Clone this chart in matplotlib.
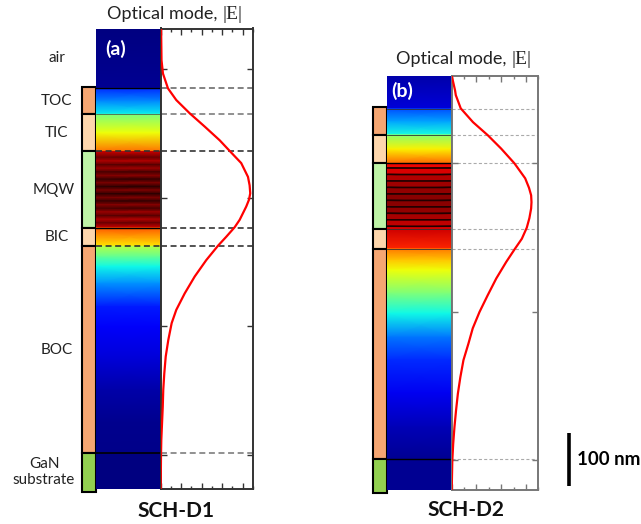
import numpy as np
import matplotlib
matplotlib.use('Agg')
import matplotlib.pyplot as plt
from matplotlib.colors import ListedColormap
from matplotlib.ticker import MultipleLocator

plt.rcParams['font.family'] = ['Lato', 'DejaVu Sans']
plt.rcParams['lines.scale_dashes'] = False

# ---------------- data (depth in nm above the GaN substrate) ----------------
layer_names = ['TOC', 'TIC', 'MQW', 'BIC', 'BOC', 'GaN\nsubstrate']
layer_colors = ['#F5A672', '#FDD6AC', '#BEF3A6', '#FDD6AC', '#F5A672', '#92D050']

a_ylim = (-68, 801)
a_interfaces = [688, 639, 569, 425, 390, 0]
a_bar_top, a_bar_bottom = 690, -73
a_yticks = [-4, 239, 482, 725]

b_ylim = (-58, 724)
b_interfaces = [661, 612, 558, 434, 397, 0]
b_bar_top, b_bar_bottom = 664, -64
b_yticks = [-2, 278, 558]

# optical mode |E| profiles
a_mode_y = [801, 741, 716, 688, 666, 641, 616, 590, 570, 547, 521, 505, 490, 478,
            465, 440, 426, 408, 391, 364, 333, 301, 270, 245, 213, 182, 150, 119,
            87, 56, 25, -4, -68]
a_mode_e = [0.004, 0.008, 0.022, 0.071, 0.152, 0.283, 0.429, 0.576, 0.673, 0.786,
            0.852, 0.868, 0.874, 0.862, 0.835, 0.771, 0.722, 0.640, 0.559, 0.445,
            0.332, 0.234, 0.152, 0.107, 0.074, 0.049, 0.035, 0.025, 0.020, 0.013,
            0.006, 0.003, 0.0]
b_mode_y = [724, 696, 687, 662, 636, 611, 586, 558, 530, 512, 498, 485, 473, 455,
            437, 416, 396, 372, 341, 309, 278, 247, 218, 187, 155, 124, 92, 60, 29,
            -2, -58]
b_mode_e = [0.0, 0.027, 0.033, 0.073, 0.172, 0.293, 0.400, 0.508, 0.594, 0.625,
            0.642, 0.645, 0.642, 0.628, 0.607, 0.567, 0.508, 0.440, 0.360, 0.290,
            0.225, 0.170, 0.135, 0.095, 0.070, 0.050, 0.035, 0.022, 0.012, 0.005, 0.0]

# colour-strip stops (value on extended jet scale, >1 = darker than dark red)
a_top_y = [801, 688, 688, 664, 639, 639, 604, 569]
a_top_v = [0.0, 0.02, 0.17, 0.26, 0.36, 0.50, 0.64, 0.79]
a_bot_y = [425, 390, 390, 370, 352, 320, 276, 238, 182, 119, 57, 0, 0, -68]
a_bot_v = [0.82, 0.66, 0.57, 0.47, 0.37, 0.27, 0.15, 0.11, 0.08, 0.04, 0.015, 0.01, 0.0, 0.0]
a_well_first, a_well_last = 557.7, 434
a_barrier_v = [0.93, 0.95, 0.97, 0.99, 1.0, 1.0, 1.0, 0.99, 0.97, 0.95, 0.92]
a_well_v = [1.06, 1.10, 1.14, 1.18, 1.20, 1.20, 1.18, 1.14, 1.10, 1.06]

b_top_y = [724, 661, 661, 637, 612, 612, 585, 558]
b_top_v = [0.04, 0.08, 0.20, 0.29, 0.38, 0.52, 0.65, 0.80]
b_bot_y = [434, 397, 397, 375, 357, 313, 275, 230, 187, 125, 60, 0, 0, -58]
b_bot_v = [0.93, 0.87, 0.78, 0.70, 0.64, 0.50, 0.37, 0.24, 0.17, 0.10, 0.05, 0.02, 0.02, 0.02]
b_well_first, b_well_last = 548.5, 438.5
b_barrier_v = [0.90, 0.92, 0.95, 0.97, 0.98, 0.99, 0.99, 0.98, 0.96, 0.94, 0.92]
b_well_v = [1.22] * 10

scale_bar_nm = 100

# ---------------- colormap: jet extended toward black ----------------
jet = plt.get_cmap('jet')
ext = np.linspace(0, 1, 60)
dark = np.column_stack([0.5 - 0.42 * ext, np.zeros(60), np.zeros(60), np.ones(60)])
cmap = ListedColormap(np.vstack([jet(np.linspace(0, 1, 240)), dark]))
VMAX = 1.25

W, H = 641, 524
fig = plt.figure(figsize=(W / 100, H / 100), dpi=100)


def fx(px):
    return px / W


def fy(py):
    return 1 - py / H


def add_axes(x0, x1, ytop, ybot):
    return fig.add_axes([fx(x0), fy(ybot), fx(x1) - fx(x0), fy(ytop) - fy(ybot)])


def strip_stops_blur(top_y, top_v, bot_y, bot_v, wf, wl, bar_v, well_v, mtop, mbot):
    wells = np.linspace(wf, wl, len(well_v))
    ys = list(top_y) + [mtop]
    vs = list(top_v) + [bar_v[0]]
    for k, yc in enumerate(wells):
        ys.append(yc)
        vs.append(well_v[k])
        if k < len(wells) - 1:
            ys.append((yc + wells[k + 1]) / 2)
            vs.append(bar_v[k + 1])
    ys += [mbot] + list(bot_y)
    vs += [bar_v[-1]] + list(bot_v)
    return ys, vs


def strip_stops_sharp(top_y, top_v, bot_y, bot_v, wf, wl, bar_v, well_v, mtop, mbot, hw):
    wells = np.linspace(wf, wl, len(well_v))
    ys = list(top_y) + [mtop]
    vs = list(top_v) + [bar_v[0]]
    for k, yc in enumerate(wells):
        ys += [yc + hw, yc + hw, yc - hw, yc - hw]
        vs += [bar_v[k], well_v[k], well_v[k], bar_v[k + 1]]
    ys += [mbot] + list(bot_y)
    vs += [bar_v[-1]] + list(bot_v)
    return ys, vs


def draw_strip(ax, ys, vs, ylim):
    ys = np.asarray(ys, float)
    vs = np.asarray(vs, float)
    X = np.tile([0.0, 1.0], (len(ys), 1))
    Y = np.column_stack([ys, ys])
    C = np.column_stack([vs, vs])
    ax.pcolormesh(X, Y, C, shading='gouraud', cmap=cmap, vmin=0, vmax=VMAX,
                  rasterized=True)
    ax.set_xlim(0, 1)
    ax.set_ylim(*ylim)
    ax.set_xticks([])
    ax.set_yticks([])
    for s in ['top', 'left', 'bottom']:
        ax.spines[s].set_visible(False)
    ax.spines['right'].set_color('black')
    ax.spines['right'].set_linewidth(1.2)


def draw_bar(ax, interfaces, top, bottom, ylim):
    bounds = [top] + list(interfaces[1:]) + [bottom]
    for i, c in enumerate(layer_colors):
        ax.bar(0.5, bounds[i + 1] - bounds[i], bottom=bounds[i], width=1.0,
               color=c, edgecolor='black', linewidth=1.5, clip_on=False)
    ax.set_xlim(0, 1)
    ax.set_ylim(*ylim)
    ax.axis('off')


def draw_mode(ax, y, e, xlim, yticks, interfaces, spine_col, dash_cols, dash_lw, dashes):
    for yi, c in zip(interfaces, dash_cols):
        ax.axhline(yi, color=c, lw=dash_lw, dashes=dashes, zorder=1)
    ax.plot(e, y, color='#FF0000', lw=1.6, zorder=3, clip_on=True)
    ax.set_xlim(*xlim)
    ax.set_ylim(y[-1], y[0])
    ax.set_yticks(yticks)
    ax.xaxis.set_major_locator(MultipleLocator(0.2))
    ax.xaxis.set_minor_locator(MultipleLocator(0.1))
    ax.tick_params(which='both', direction='in', top=True, right=True,
                   labelbottom=False, labelleft=False, color=spine_col, width=1.0)
    ax.tick_params(which='major', length=4.5)
    ax.tick_params(which='minor', length=2.5)
    for s in ax.spines.values():
        s.set_color(spine_col)
        s.set_linewidth(1.4)


# ---------------- panel (a) ----------------
a_ytop, a_ybot = 28.5, 489
ax_bar_a = add_axes(82.3, 96.2, a_ytop, a_ybot)
ax_str_a = add_axes(96.2, 160.7, a_ytop, a_ybot)
ax_mod_a = add_axes(160.7, 252.9, a_ytop, a_ybot)

ys, vs = strip_stops_blur(a_top_y, a_top_v, a_bot_y, a_bot_v,
                          a_well_first, a_well_last, a_barrier_v, a_well_v,
                          a_interfaces[2], a_interfaces[3])
draw_strip(ax_str_a, ys, vs, a_ylim)
draw_bar(ax_bar_a, a_interfaces, a_bar_top, a_bar_bottom, a_ylim)
draw_mode(ax_mod_a, a_mode_y, a_mode_e, (0, 0.9), a_yticks, a_interfaces, '#333333',
          ['#777777', '#888888', '#444444', '#444444', '#444444', '#888888'], 1.3, (4.3, 2.6))
ax_str_a.axhline(a_interfaces[0], color='black', lw=1.0)
ax_str_a.axhline(a_interfaces[1], color='#444444', lw=0.5)
ax_str_a.axhline(a_interfaces[2], color='#333333', lw=1.2, dashes=(4.3, 2.6))
ax_str_a.axhline(a_interfaces[3], color='black', lw=1.0)
ax_str_a.axhline(a_interfaces[4], color='#333333', lw=1.2, dashes=(4.3, 2.6))
ax_str_a.axhline(a_interfaces[5], color='black', lw=1.2)
ax_str_a.text(0.295, 0.955, '(a)', transform=ax_str_a.transAxes, color='white',
              fontsize=14, fontweight='bold', ha='center', va='center')

# layer labels (panel a only)
lab_tr = ax_bar_a.get_yaxis_transform()
a_bounds = [a_ylim[1]] + a_interfaces + [a_bar_bottom]
all_names = ['air'] + layer_names
for i, name in enumerate(all_names):
    yc = (a_bounds[i] + a_bounds[i + 1]) / 2
    xo = -1.85 if name != 'MQW' else -2.05
    if name.startswith('GaN'):
        xo = -2.75
    ax_bar_a.text(xo, yc, name, transform=lab_tr, ha='center', va='center',
                  fontsize=11, color='#222222', linespacing=1.2)

# ---------------- panel (b) ----------------
b_ytop, b_ybot = 75.5, 490
ax_bar_b = add_axes(372.7, 387.3, b_ytop, b_ybot)
ax_str_b = add_axes(387.3, 451.7, b_ytop, b_ybot)
ax_mod_b = add_axes(451.7, 538.3, b_ytop, b_ybot)

ys, vs = strip_stops_sharp(b_top_y, b_top_v, b_bot_y, b_bot_v,
                           b_well_first, b_well_last, b_barrier_v, b_well_v,
                           b_interfaces[2], b_interfaces[3], 1.6)
draw_strip(ax_str_b, ys, vs, b_ylim)
draw_bar(ax_bar_b, b_interfaces, b_bar_top, b_bar_bottom, b_ylim)
draw_mode(ax_mod_b, b_mode_y, b_mode_e, (0, 0.7), b_yticks, b_interfaces, '#777777',
          ['#AAAAAA'] * 6, 0.8, (2.2, 1.6))
for k, yi in enumerate(b_interfaces):
    ax_str_b.axhline(yi, color='black' if k in (2, 5) else '#333333',
                     lw=1.0 if k in (2, 5) else 0.6)
ax_str_b.text(0.235, 0.962, '(b)', transform=ax_str_b.transAxes, color='white',
              fontsize=14, fontweight='bold', ha='center', va='center')

# scale bar (100 nm, drawn in panel-b units)
sb_tr = ax_mod_b.get_yaxis_transform()
ax_mod_b.plot([1.354, 1.354], [-51, -51 + scale_bar_nm], color='black', lw=2.6,
              transform=sb_tr, clip_on=False, solid_capstyle='butt')
ax_mod_b.text(1.45, -51 + scale_bar_nm / 2, '100 nm', transform=sb_tr, ha='left',
              va='center', fontsize=13.5, fontweight='bold', clip_on=False)

# ---------------- titles ----------------
fig.canvas.draw()
renderer = fig.canvas.get_renderer()


def two_part_title(xc, yc):
    t1 = fig.text(0, fy(yc), 'Optical mode, ', ha='left', va='baseline',
                  fontsize=13, color='#222222')
    t2 = fig.text(0, fy(yc), '|E|', ha='left', va='baseline',
                  fontsize=14, color='#222222', family='Liberation Serif')
    w1 = t1.get_window_extent(renderer).width
    w2 = t2.get_window_extent(renderer).width
    x0 = xc - (w1 + w2) / 2
    t1.set_x(fx(x0))
    t2.set_x(fx(x0 + w1))


two_part_title(175, 19)
two_part_title(464, 64)

fig.text(fx(175.5), fy(511), 'SCH-D1', ha='center', va='center', fontsize=15,
         fontweight='bold', color='#111111')
fig.text(fx(466), fy(510), 'SCH-D2', ha='center', va='center', fontsize=15,
         fontweight='bold', color='#111111')

fig.savefig('out.png', dpi=100)
